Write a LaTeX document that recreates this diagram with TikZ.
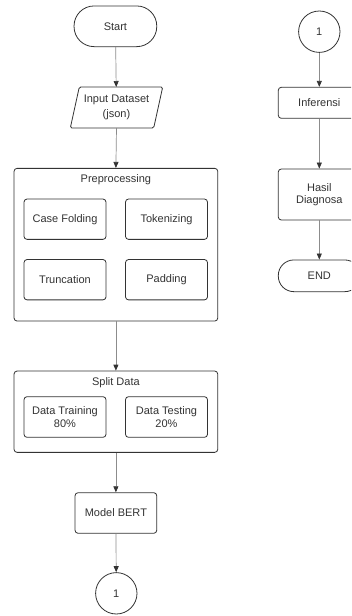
\documentclass[tikz,border=0pt]{standalone}
\usepackage{fontspec}
\setmainfont{Liberation Sans}
\usetikzlibrary{arrows.meta,calc}
\definecolor{ln}{HTML}{333333}
\definecolor{ar}{HTML}{8C8C8C}
\begin{document}
\begin{tikzpicture}[x=1pt,y=-1pt,
  font=\fontsize{11}{12.5}\selectfont, text=ln,
  box/.style={draw=ln, line width=0.8pt, rounded corners=3pt, fill=white, align=center, inner sep=0pt},
  term/.style={box, rounded corners=15.5pt},
  conn/.style={draw=ln, line width=0.8pt, circle, fill=white, inner sep=0pt, minimum size=41.4pt},
  flow/.style={draw=ar, line width=0.7pt, -{Triangle[length=6pt,width=5pt,fill=ln,color=ln]}}]
\clip (0,0) rectangle (351,616);
\fill[white] (0,0) rectangle (351,616);
% left column
\node[box, rounded corners=20pt, minimum width=82.7pt, minimum height=40.7pt] (start) at (115.4,26.3) {Start};
\node[minimum width=83pt, minimum height=40.6pt, align=center, inner sep=0pt,
  font=\fontsize{11}{15}\selectfont] (input) at (116.5,107.5) {Input Dataset\\(json)};
\draw[ln, line width=0.8pt, rounded corners=1.5pt]
  ($(input.north west)+(4.5,0)$) -- ($(input.north east)+(4.5,0)$) --
  ($(input.south east)-(4.5,0)$) -- ($(input.south west)-(4.5,0)$) -- cycle;
\node[box, minimum width=203.7pt, minimum height=152.7pt] (pre) at (115.9,244.7) {};
\node (pret) at (115.9,180) {Preprocessing};
\node[box, minimum width=82pt, minimum height=40.3pt] (cf) at (65,219.2) {Case Folding};
\node[box, minimum width=82pt, minimum height=40.3pt] (tok) at (166.5,219.2) {Tokenizing};
\node[box, minimum width=82pt, minimum height=40.3pt] (tru) at (65,279.7) {Truncation};
\node[box, minimum width=82pt, minimum height=40.3pt] (pad) at (166.5,279.7) {Padding};
\node[box, minimum width=203.7pt, minimum height=81.3pt] (split) at (115.9,411.7) {};
\node (splitt) at (115.9,382.7) {Split Data};
\node[box, minimum width=82pt, minimum height=40.6pt] (dtr) at (65,417) {Data Training\\80\%};
\node[box, minimum width=82pt, minimum height=40.6pt] (dte) at (166.5,417) {Data Testing\\20\%};
\node[box, minimum width=81.7pt, minimum height=40.6pt] (bert) at (115.9,513) {Model BERT};
\node[conn] (c1) at (116.3,593.3) {1};
% right column
\node[conn] (c2) at (319.3,31.7) {1};
\node[box, minimum width=82pt, minimum height=31pt] (inf) at (319.3,102.8) {Inferensi};
\node[box, minimum width=82pt, minimum height=51pt] (hasil) at (319.3,194.5) {Hasil\\Diagnosa};
\node[term, minimum width=82pt, minimum height=31.7pt] (end) at (319.3,275.8) {END};
% connectors
\draw[flow] (start) -- (input);
\draw[flow] (input.south) -- (pre.north);
\draw[flow] (pre) -- (split);
\draw[flow] (split) -- (bert);
\draw[flow] (bert) -- (c1);
\draw[flow] (c2) -- (inf);
\draw[flow] (inf) -- (hasil);
\draw[flow] (hasil) -- (end);
\end{tikzpicture}
\end{document}
